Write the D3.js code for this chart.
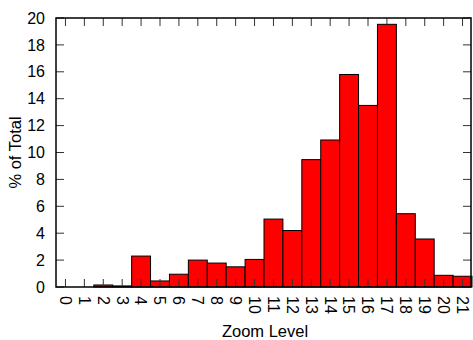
<!DOCTYPE html>
<html>
<head>
<meta charset="utf-8">
<script src="https://cdn.jsdelivr.net/npm/d3@7"></script>
<style>
  body { margin: 0; background: #fff; }
  svg { display: block; font-family: "Liberation Sans", Arial, sans-serif; }
</style>
</head>
<body>
<div id="chart"></div>
<script>
// zoom levels and share of total (%)
const zoomLevels = d3.range(0, 22);
const percentOfTotal = [0, 0, 0.15, 0.08, 2.3, 0.45, 0.95, 2.0, 1.78, 1.5, 2.05,
  5.05, 4.2, 9.47, 10.93, 15.8, 13.5, 19.53, 5.45, 3.57, 0.87, 0.8];
const yTicks = [0, 2, 4, 6, 8, 10, 12, 14, 16, 18, 20];

const width = 473, height = 340;
const margin = { top: 18, right: 1, bottom: 53, left: 56 };

const svg = d3.select('#chart')
  .append('svg')
  .attr('width', width)
  .attr('height', height);

const x = d3.scaleLinear()
  .domain([0, 22])
  .range([margin.left, width - margin.right]);

const y = d3.scaleLinear()
  .domain([0, 20])
  .range([height - margin.bottom, margin.top]);

// bars
svg.selectAll('.bar')
  .data(percentOfTotal)
  .enter()
  .append('rect')
  .attr('class', 'bar')
  .attr('x', (d, i) => x(zoomLevels[i]))
  .attr('y', d => y(d))
  .attr('width', x(1) - x(0))
  .attr('height', d => y(0) - y(d))
  .style('fill', '#ff0000')
  .style('stroke', '#000')
  .style('stroke-width', '1px');

// frame ticks (inward, all four sides)
const tickLen = 8;
const ticks = svg.append('g').style('stroke', '#333').style('stroke-width', '1px');
zoomLevels.forEach(z => {
  const cx = x(z + 0.5);
  ticks.append('line').attr('x1', cx).attr('x2', cx)
    .attr('y1', y(0)).attr('y2', y(0) - tickLen);
  ticks.append('line').attr('x1', cx).attr('x2', cx)
    .attr('y1', y(20)).attr('y2', y(20) + tickLen);
});
yTicks.forEach(t => {
  ticks.append('line').attr('x1', x(0)).attr('x2', x(0) + tickLen)
    .attr('y1', y(t)).attr('y2', y(t));
  ticks.append('line').attr('x1', x(22) - 1).attr('x2', x(22) - 1 - tickLen)
    .attr('y1', y(t)).attr('y2', y(t));
});

// frame
svg.append('rect')
  .attr('x', x(0))
  .attr('y', y(20))
  .attr('width', x(22) - 1 - x(0))
  .attr('height', y(0) - y(20))
  .style('fill', 'none')
  .style('stroke', '#000')
  .style('stroke-width', '1.5px');

// y tick labels
svg.selectAll('.ylabel')
  .data(yTicks)
  .enter()
  .append('text')
  .attr('x', 45)
  .attr('y', d => y(d))
  .attr('dy', '0.35em')
  .style('text-anchor', 'end')
  .style('font-size', '16px')
  .style('fill', '#000')
  .text(d => d);

// x tick labels, rotated
svg.selectAll('.xlabel')
  .data(zoomLevels)
  .enter()
  .append('text')
  .attr('transform', d => `translate(${x(d + 0.5)},${y(0) + 9}) rotate(90)`)
  .attr('dy', '0.35em')
  .style('text-anchor', 'start')
  .style('font-size', '16px')
  .style('fill', '#000')
  .text(d => d);

// axis titles
svg.append('text')
  .attr('x', 265)
  .attr('y', 337)
  .style('text-anchor', 'middle')
  .style('font-size', '16.5px')
  .text('Zoom Level');

svg.append('text')
  .attr('transform', `translate(21,${(y(0) + y(20)) / 2}) rotate(-90)`)
  .style('text-anchor', 'middle')
  .style('font-size', '16.5px')
  .text('% of Total');
</script>
</body>
</html>
